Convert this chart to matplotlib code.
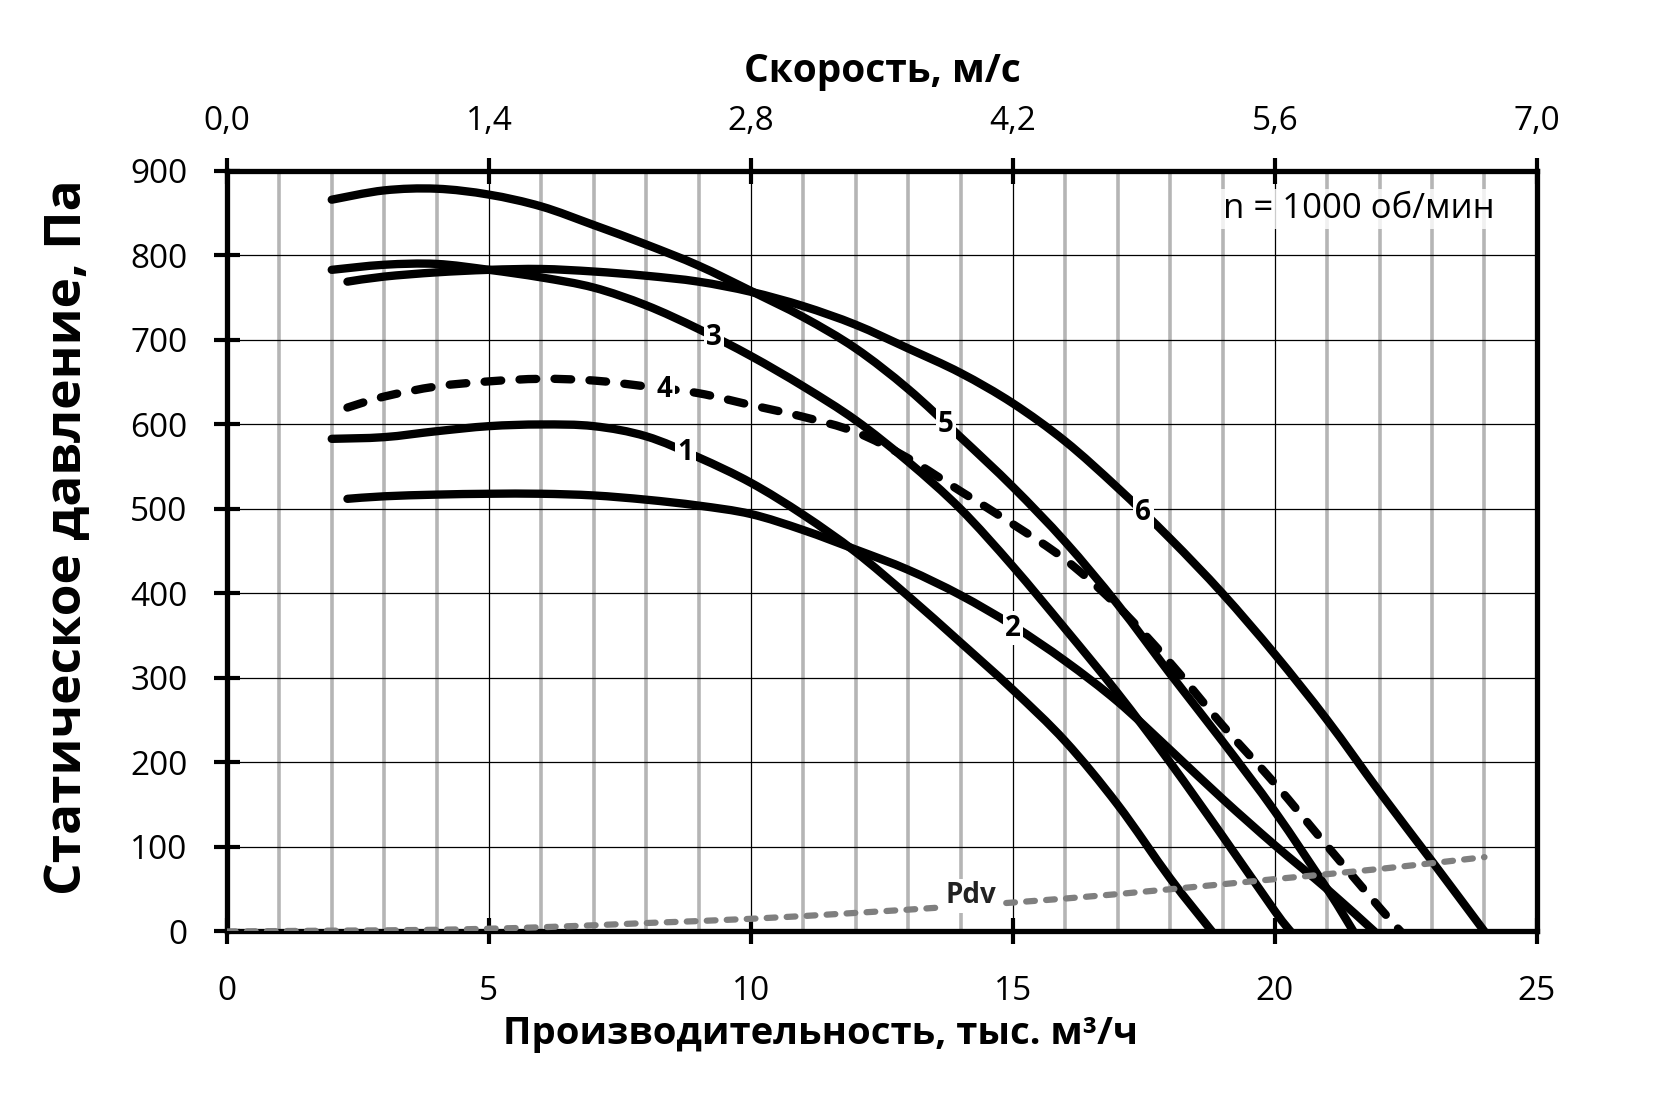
import numpy as np
import matplotlib.pyplot as plt
from matplotlib.path import Path
from matplotlib.patches import PathPatch

plt.rcParams['font.family'] = ['Open Sans', 'DejaVu Sans']

# flow, thousand m3/h  ->  static pressure, Pa
q1 = [2, 3, 4, 5, 6, 7, 8, 9, 10, 11, 12, 13, 14, 15, 16, 17, 18, 18.8]
p1 = [583, 585, 592, 598, 600, 598, 586, 561, 531, 493, 449, 397, 342, 286, 225, 150, 63, 0]

q2 = [2.3, 3, 4, 5, 6, 7, 8, 9, 10, 11, 12, 13, 14, 15, 16, 17, 18, 19, 20, 21, 21.9]
p2 = [512, 515, 517, 518, 518, 516, 511, 504, 494, 475, 452, 428, 398, 362, 320, 272, 215, 157, 102, 50, 0]

q3 = [2, 3, 4, 5, 6, 7, 8, 9, 10, 11, 12, 13, 14, 15, 16, 17, 18, 19, 20, 20.3]
p3 = [783, 789, 790, 783, 774, 762, 741, 713, 681, 645, 605, 556, 500, 432, 358, 282, 200, 113, 24, 0]

q4 = [2.3, 3, 4, 5, 6, 7, 8, 9, 10, 11, 12, 13, 14, 15, 16, 17, 18, 19, 20, 21, 22, 22.4]
p4 = [620, 633, 645, 651, 654, 652, 645, 637, 623, 609, 591, 560, 521, 482, 440, 385, 318, 244, 175, 101, 28, 0]

q5 = [2, 3, 4, 5, 6, 7, 8, 9, 10, 11, 12, 13, 14, 15, 16, 17, 18, 19, 20, 21, 21.5]
p5 = [866, 877, 879, 872, 858, 836, 813, 788, 758, 727, 690, 642, 585, 526, 461, 387, 305, 225, 142, 50, 0]

q6 = [2.3, 3, 4, 5, 6, 7, 8, 9, 10, 11, 12, 13, 14, 15, 16, 17, 18, 19, 20, 21, 22, 23, 24]
p6 = [769, 775, 780, 783, 784, 781, 776, 769, 757, 740, 718, 690, 661, 625, 580, 525, 465, 400, 328, 250, 165, 83, 0]

# dynamic pressure
qd = [0, 2, 4, 6, 8, 10, 12, 14, 16, 18, 20, 22, 24]
pd = [0, 1, 2, 5, 10, 15, 22, 30, 39, 50, 62, 74, 88]

flow_ticks = [0, 5, 10, 15, 20, 25]
speed_labels = ['0,0', '1,4', '2,8', '4,2', '5,6', '7,0']
press_ticks = [0, 100, 200, 300, 400, 500, 600, 700, 800, 900]

curve_names = ['1', '2', '3', '4', '5', '6']
name_q = [8.75, 15.0, 9.3, 8.35, 13.72, 17.49]
name_p = [567, 359, 703, 641, 600, 496]


def smooth_path(q, p):
    # Catmull-Rom through the read points, drawn as cubic Bezier segments
    pts = np.column_stack([q, p]).astype(float)
    n = len(pts)
    verts = [pts[0]]
    codes = [Path.MOVETO]
    for i in range(n - 1):
        a = pts[i - 1] if i > 0 else pts[i]
        b = pts[i]
        c = pts[i + 1]
        d = pts[i + 2] if i + 2 < n else pts[i + 1]
        verts += [b + (c - a) / 6, c - (d - b) / 6, c]
        codes += [Path.CURVE4] * 3
    return Path(verts, codes)


fig = plt.figure(figsize=(16.54, 11.03), dpi=100)
ax = fig.add_axes([0.1372, 0.1555, 0.792, 0.6895])
ax.set_xlim(0, 25)
ax.set_ylim(0, 900)
ax.set_xticks(flow_ticks)
ax.set_xticks(range(1, 25), minor=True)
ax.set_yticks(press_ticks)
ax.set_axisbelow(True)
ax.xaxis.grid(True, which='minor', color='#b5b5b5', lw=2.6)
ax.xaxis.grid(True, which='major', color='black', lw=0.9)
ax.yaxis.grid(True, which='major', color='black', lw=0.9)
ax.tick_params(which='minor', length=0)
ax.tick_params(which='major', direction='inout', length=19, width=3, labelsize=24)
ax.tick_params(axis='y', pad=19)
ax.tick_params(axis='x', pad=22)
for s in ax.spines.values():
    s.set_linewidth(3.8)

ax2 = ax.twiny()
ax2.set_xlim(0, 25)
ax2.set_xticks(flow_ticks)
ax2.set_xticklabels(speed_labels)
ax2.tick_params(which='major', direction='inout', length=19, width=3, labelsize=24, pad=14)
for s in ax2.spines.values():
    s.set_visible(False)

for q, p in [(q1, p1), (q2, p2), (q3, p3), (q5, p5), (q6, p6)]:
    ax.add_patch(PathPatch(smooth_path(q, p), fill=False, ec='black', lw=6,
                           capstyle='round', joinstyle='round', zorder=3))
ax.add_patch(PathPatch(smooth_path(q4, p4), fill=False, ec='black', lw=6,
                       linestyle=(0, (2.0, 2.2)), capstyle='round', zorder=3))
ax.add_patch(PathPatch(smooth_path(qd, pd), fill=False, ec='#7f7f7f', lw=4.5,
                       linestyle=(0, (1.4, 1.8)), capstyle='round', zorder=3))

box = dict(boxstyle='square,pad=0.08', fc='white', ec='none')
for t, x, y in zip(curve_names, name_q, name_p):
    ax.text(x, y, t, ha='center', va='center', fontsize=20, fontweight='bold', bbox=box, zorder=5)
ax.text(14.2, 42, 'Pdv', ha='center', va='center', fontsize=20, fontweight='bold',
        color='#222222', bbox=box, zorder=5)

ax.text(21.6, 855, 'n = 1000 об/мин', ha='center', va='center', fontsize=25,
        bbox=dict(boxstyle='square,pad=0.1', fc='white', ec='none', alpha=0.8), zorder=5)

ax.text(0.5, 1.1164, 'Скорость, м/с', transform=ax.transAxes, ha='center', va='baseline',
        fontsize=28, fontweight='bold')
ax.text(0.453, -0.148, 'Производительность, тыс. м³/ч', transform=ax.transAxes,
        ha='center', va='baseline', fontsize=27.5, fontweight='bold')
ax.text(-0.1214, 0.518, 'Статическое давление, Па', transform=ax.transAxes, ha='center',
        va='center', rotation=90, fontsize=37, fontweight='bold')

fig.savefig('out.png', dpi=100)
